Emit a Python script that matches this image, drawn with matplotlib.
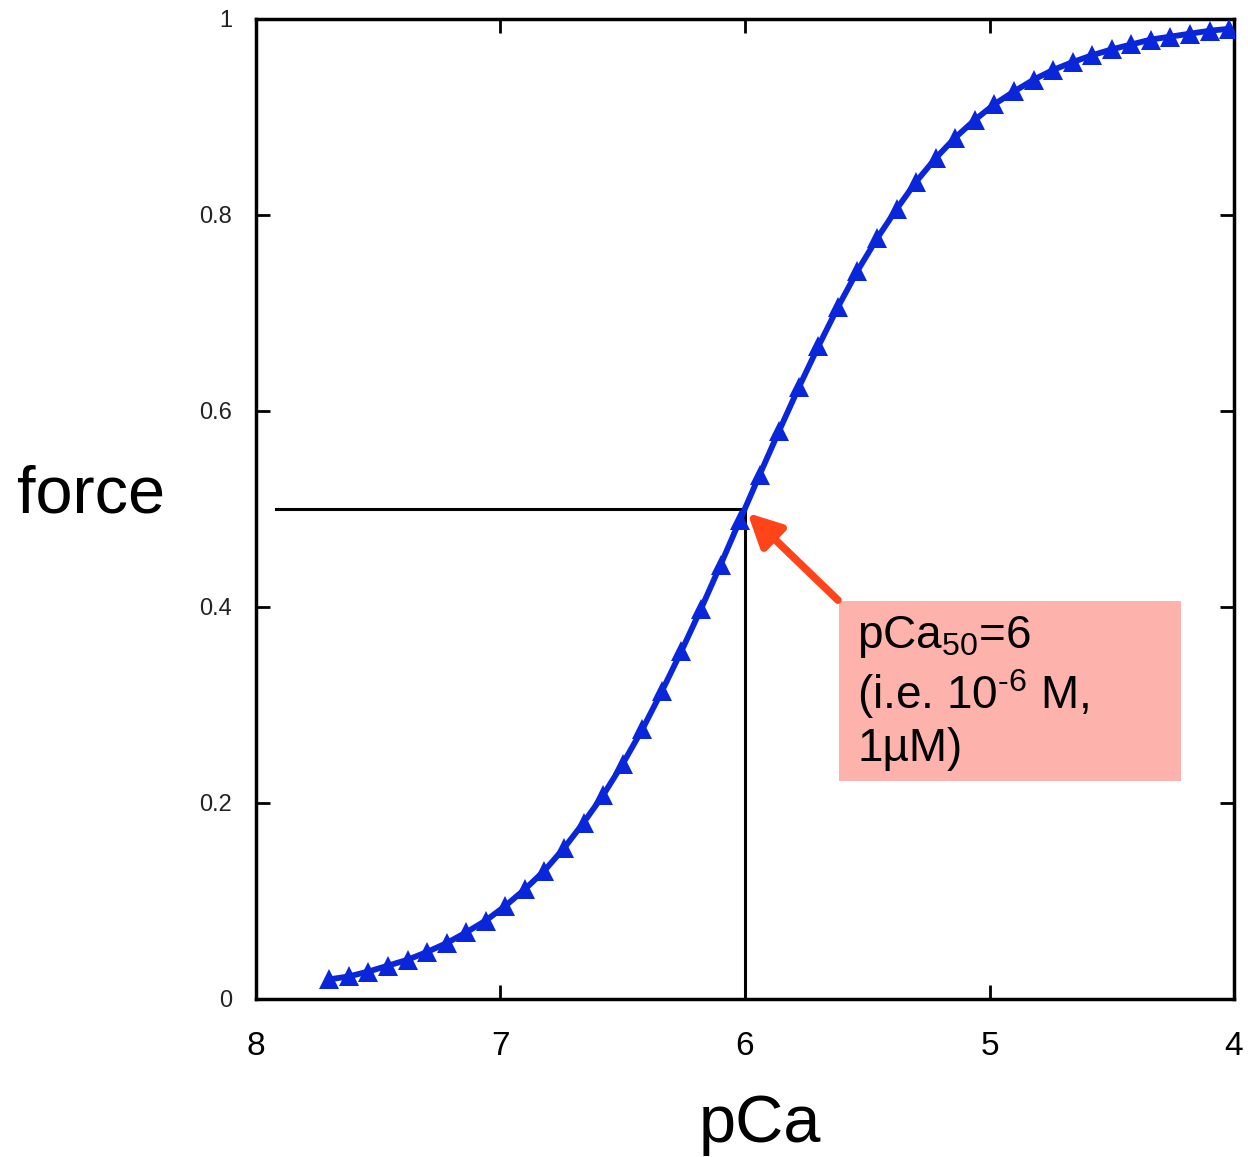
import matplotlib
matplotlib.use("Agg")
import matplotlib.pyplot as plt
from matplotlib.patches import Rectangle

plt.rcParams['font.family'] = ['Liberation Sans', 'DejaVu Sans']
plt.rcParams['mathtext.fontset'] = 'custom'
plt.rcParams['mathtext.rm'] = 'Liberation Sans'

# pCa values of the markers and the force
pca = [7.70, 7.62, 7.54, 7.46, 7.38, 7.30, 7.22, 7.14, 7.06, 6.98,
       6.90, 6.82, 6.74, 6.66, 6.58, 6.50, 6.42, 6.34, 6.26, 6.18,
       6.10, 6.02, 5.94, 5.86, 5.78, 5.70, 5.62, 5.54, 5.46, 5.38,
       5.30, 5.22, 5.14, 5.06, 4.98, 4.90, 4.82, 4.74, 4.66, 4.58,
       4.50, 4.42, 4.34, 4.26, 4.18, 4.10, 4.02]
force = [0.020, 0.023, 0.028, 0.034, 0.040, 0.048, 0.057, 0.068, 0.080, 0.095,
         0.112, 0.131, 0.154, 0.180, 0.208, 0.240, 0.275, 0.314, 0.355, 0.398,
         0.443, 0.489, 0.535, 0.580, 0.624, 0.666, 0.706, 0.743, 0.776, 0.806,
         0.834, 0.858, 0.879, 0.897, 0.913, 0.926, 0.938, 0.948, 0.956, 0.963,
         0.969, 0.974, 0.979, 0.982, 0.985, 0.988, 0.990]

xticks = [8, 7, 6, 5, 4]
yticks = [0, 0.2, 0.4, 0.6, 0.8, 1]
ytick_labels = ['0', '0.2', '0.4', '0.6', '0.8', '1']

pca50 = 6.0
half_force = 0.5

fig = plt.figure(figsize=(12.48, 11.57), dpi=100)
ax = fig.add_axes([0.2051, 0.1366, 0.7837, 0.847])

ax.plot(pca, force, color='#0A26DA', lw=4.2, marker='^', markersize=14,
        markeredgewidth=0, zorder=3)

# guide lines at the half-maximal point
ax.plot([7.92, pca50], [half_force, half_force], color='black', lw=2.2, zorder=2)
ax.plot([pca50, pca50], [half_force, 0], color='black', lw=2.2, zorder=2)

ax.set_xlim(8, 4)
ax.set_ylim(0, 1)
ax.set_xticks(xticks)
ax.set_xticklabels([str(t) for t in xticks])
ax.set_yticks(yticks)
ax.set_yticklabels(ytick_labels)

for s in ax.spines.values():
    s.set_linewidth(2.5)
ax.tick_params(axis='both', direction='in', length=10, width=2,
               top=True, right=True)
ax.tick_params(axis='x', labelsize=24, pad=23)
ax.tick_params(axis='y', labelsize=17, pad=17, labelcolor='#222222')

# annotation box + arrow
box_x0, box_x1 = 5.616, 4.217
box_y0, box_y1 = 0.2224, 0.406
ax.add_patch(Rectangle((box_x1, box_y0), box_x0 - box_x1, box_y1 - box_y0,
                       facecolor='#FEB2AC', edgecolor='none', zorder=4))
ax.text(5.54, 0.393,
        'pCa$\\mathregular{_{50}}$=6\n(i.e. 10$\\mathregular{^{\u2010' + '6}}$ M,\n1µM)',
        fontsize=33, va='top', ha='left', linespacing=1.17, zorder=5)
ax.annotate('', xy=(5.99, 0.496), xytext=(5.62, 0.407),
            arrowprops=dict(arrowstyle='-|>', color='#FF4419', lw=5.5,
                            mutation_scale=50, shrinkA=0, shrinkB=0),
            zorder=5)

fig.text(760 / 1248, 1 - 1125 / 1157, 'pCa', fontsize=48, ha='center', va='center')
fig.text(91 / 1248, 1 - 495 / 1157, 'force', fontsize=48, ha='center', va='center')

fig.savefig('out.png', dpi=100)
